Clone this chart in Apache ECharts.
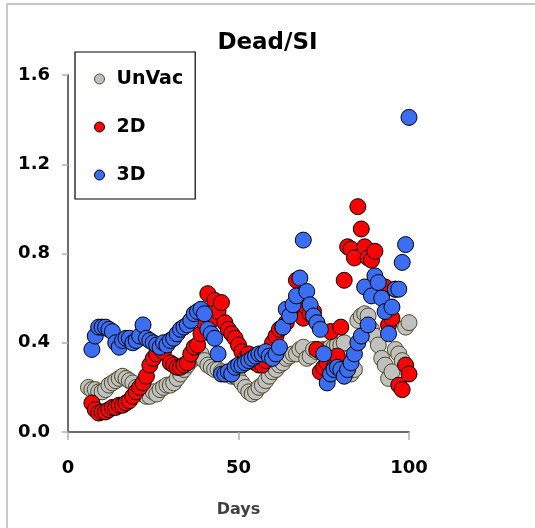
<!DOCTYPE html>
<html>
<head>
<meta charset="utf-8">
<script src="https://cdn.jsdelivr.net/npm/echarts@6/dist/echarts.min.js"></script>
<style>
  html, body { margin: 0; padding: 0; background: #fff; }
  #chart { width: 535px; height: 528px; }
</style>
</head>
<body>
<div id="chart"></div>
<script>
  // day numbers and the three series
  let days = [6, 7, 8, 9, 10, 11, 12, 13, 14, 15, 16, 17, 18, 19, 20, 21, 22, 23, 24, 25,
    26, 27, 28, 29, 30, 31, 32, 33, 34, 35, 36, 37, 38, 39, 40, 41, 42, 43, 44, 45,
    46, 47, 48, 49, 50, 51, 52, 53, 54, 55, 56, 57, 58, 59, 60, 61, 62, 63, 64, 65,
    66, 67, 68, 69, 70, 71, 72, 73, 74, 75, 76, 77, 78, 79, 80, 81, 82, 83, 84, 85,
    86, 87, 88, 89, 90, 91, 92, 93, 94, 95, 96, 97, 98, 99, 100]
  let unVac = [0.20, 0.19, 0.19, 0.18, 0.18, 0.19, 0.21, 0.22, 0.23, 0.24, 0.25, 0.24, 0.23, 0.22, 0.20, 0.18, 0.17, 0.16, 0.16, 0.18,
    0.17, 0.19, 0.20, 0.21, 0.21, 0.22, 0.24, 0.26, 0.28, 0.30, 0.32, 0.33, 0.34, 0.35, 0.32, 0.30, 0.29, 0.28, 0.28, 0.27,
    0.26, 0.26, 0.25, 0.25, 0.24, 0.22, 0.20, 0.18, 0.17, 0.18, 0.20, 0.21, 0.23, 0.25, 0.27, 0.28, 0.30, 0.31, 0.33, 0.34,
    0.35, 0.35, 0.37, 0.38, 0.33, 0.34, 0.37, 0.36, 0.36, 0.37, 0.37, 0.38, 0.38, 0.39, 0.39, 0.40, 0.29, 0.26, 0.28, 0.50,
    0.52, 0.53, 0.52, 0.46, 0.43, 0.39, 0.33, 0.30, 0.24, 0.27, 0.37, 0.35, 0.32, 0.47, 0.49]
  let twoD = [null, 0.13, 0.10, 0.085, 0.09, 0.09, 0.10, 0.11, 0.11, 0.12, 0.12, 0.13, 0.14, 0.16, 0.18, 0.20, 0.22, 0.25, 0.30, 0.33,
    0.35, 0.38, 0.36, 0.40, 0.31, 0.30, 0.29, 0.29, 0.30, 0.31, 0.35, 0.38, 0.39, 0.44, 0.49, 0.62, 0.50, 0.59, 0.54, 0.58,
    0.49, 0.46, 0.44, 0.42, 0.39, 0.36, 0.33, 0.35, 0.32, 0.31, 0.30, 0.30, 0.32, 0.36, 0.40, 0.43, 0.46, 0.47, 0.49, 0.53,
    0.55, 0.68, 0.55, 0.51, 0.56, 0.53, 0.54, 0.37, 0.27, 0.29, 0.31, 0.45, 0.29, 0.34, 0.47, 0.68, 0.83, 0.82, 0.78, 1.01,
    0.91, 0.83, 0.78, 0.77, 0.81, 0.66, 0.62, 0.65, 0.48, 0.51, 0.64, 0.21, 0.19, 0.30, 0.26]
  let threeD = [null, 0.37, 0.43, 0.47, 0.47, 0.47, 0.46, 0.45, 0.40, 0.38, 0.41, 0.42, 0.42, 0.40, 0.41, 0.43, 0.48, 0.42, 0.41, 0.40,
    0.39, 0.38, 0.40, 0.39, 0.41, 0.42, 0.44, 0.46, 0.47, 0.48, 0.50, 0.53, 0.54, 0.55, 0.53, 0.46, 0.44, 0.42, 0.35, 0.26,
    0.26, 0.27, 0.26, 0.29, 0.30, 0.30, 0.31, 0.32, 0.33, 0.34, 0.35, 0.35, 0.36, 0.34, 0.33, 0.35, 0.38, 0.47, 0.55, 0.52,
    0.57, 0.61, 0.69, 0.86, 0.63, 0.57, 0.52, 0.49, 0.46, 0.35, 0.22, 0.26, 0.28, 0.29, 0.28, 0.25, 0.28, 0.31, 0.35, 0.40,
    0.43, 0.65, 0.48, 0.61, 0.70, 0.67, 0.60, 0.54, 0.44, 0.56, 0.64, 0.64, 0.76, 0.84, 1.41]
  let xTicks = [0, 50, 100]
  let yTicks = [0, 0.4, 0.8, 1.2, 1.6]

  let font = 'DejaVu Sans'

  function pairs(vals) {
    let out = []
    vals.forEach((v, i) => {
      if (v !== null) out.push([days[i], v])
    })
    return out
  }

  let chart = echarts.init(document.getElementById('chart'))
  let frame = { show: true, lineStyle: { color: '#5a5a5a', width: 1.5 } }
  let option = {
    animation: false,
    graphic: [{
      type: 'rect', z: -10, silent: true,
      shape: { x: 7, y: 4, width: 600, height: 600 },
      style: { fill: '#fff', stroke: '#c8c8c8', lineWidth: 2 }
    }],
    title: {
      text: 'Dead/SI', left: 'center', top: 27,
      textStyle: { fontFamily: font, fontWeight: 'bold', fontSize: 23, color: '#000' }
    },
    legend: {
      orient: 'vertical', left: 75, top: 52,
      data: [
        { name: 'UnVac', icon: 'circle' },
        { name: '2D', icon: 'circle' },
        { name: '3D', icon: 'circle' }
      ],
      backgroundColor: '#fff', borderColor: '#000', borderWidth: 1.2,
      padding: [16, 12, 13, 19],
      itemGap: 26, itemWidth: 10, itemHeight: 10,
      itemStyle: { borderWidth: 1 },
      textStyle: { fontFamily: font, fontWeight: 'bold', fontSize: 19, color: '#000', padding: [0, 0, 0, 7], lineHeight: 22 }
    },
    grid: { left: 68, right: 126, top: 75, bottom: 96 },
    xAxis: [{
      type: 'value', min: xTicks[0], max: xTicks[xTicks.length - 1], interval: 50,
      name: 'Days', nameLocation: 'middle', nameGap: 70,
      nameTextStyle: { fontFamily: font, fontWeight: 'bold', fontSize: 16, color: '#404040' },
      axisLine: { lineStyle: { color: '#a8a8a8', width: 2 } },
      axisTick: { show: true, length: 8, lineStyle: { color: '#b0b0b0', width: 1.5 } },
      axisLabel: { margin: 27, fontFamily: font, fontWeight: 'bold', fontSize: 18, color: '#000' },
      splitLine: { show: false }
    }, {
      type: 'value', position: 'top', min: 0, max: 100,
      axisLine: frame, axisTick: { show: false }, axisLabel: { show: false }, splitLine: { show: false }
    }],
    yAxis: [{
      type: 'value', min: yTicks[0], max: yTicks[yTicks.length - 1], interval: 0.4,
      axisLine: { show: true, lineStyle: { color: '#a8a8a8', width: 2 } },
      axisTick: { show: true, length: 6, lineStyle: { color: '#b0b0b0', width: 1.5 } },
      axisLabel: {
        margin: 18, fontFamily: font, fontWeight: 'bold', fontSize: 18, color: '#000',
        formatter: v => v.toFixed(1)
      },
      splitLine: { show: false }
    }, {
      type: 'value', position: 'right', min: 0, max: 1.6,
      axisLine: frame, axisTick: { show: false }, axisLabel: { show: false }, splitLine: { show: false }
    }],
    series: [
      {
        name: 'UnVac', type: 'scatter', symbolSize: 16, clip: false,
        itemStyle: { color: '#c0c0c0', borderColor: '#4a4a22', borderWidth: 1, opacity: 1 },
        data: pairs(unVac)
      },
      {
        name: '2D', type: 'scatter', symbolSize: 16, clip: false,
        itemStyle: { color: '#ff0000', borderColor: '#000', borderWidth: 1, opacity: 1 },
        data: pairs(twoD)
      },
      {
        name: '3D', type: 'scatter', symbolSize: 16, clip: false,
        itemStyle: { color: '#3b6ef2', borderColor: '#000', borderWidth: 1, opacity: 1 },
        data: pairs(threeD)
      }
    ]
  }
  chart.setOption(option)
</script>
</body>
</html>
